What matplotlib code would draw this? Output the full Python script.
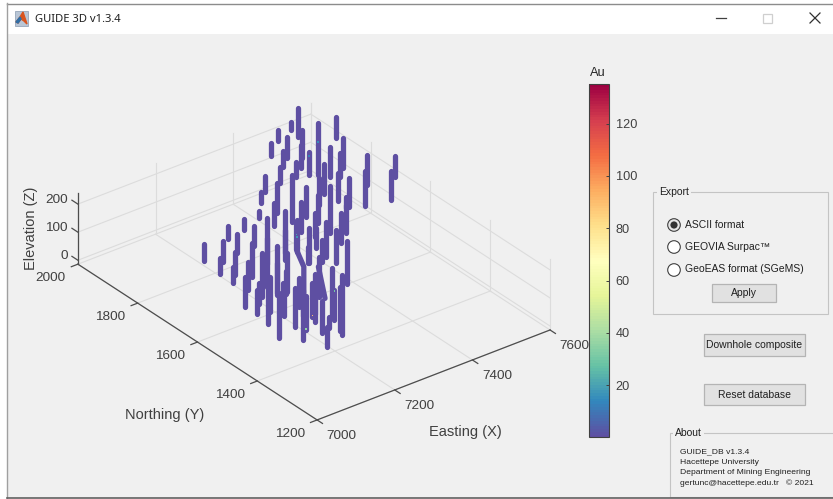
import matplotlib
matplotlib.use('Agg')
import matplotlib.pyplot as plt
from matplotlib.cm import ScalarMappable
from matplotlib.colors import Normalize
from matplotlib.patches import Rectangle, Circle

plt.rcParams['font.family'] = ['Liberation Sans', 'DejaVu Sans']

# drill holes (collar easting / northing, top and bottom elevation)
hole_x = [7580, 7534, 7494, 7450, 7489, 7533, 7493, 7450, 7406, 7445, 7488, 7576, 7620, 7578, 7536, 7535, 7484,
          7483, 7488, 7437, 7576, 7534, 7618, 7574, 7359, 7313, 7360, 7305, 7404, 7399, 7353, 7440, 7397, 7439,
          7347, 7390, 7418, 7339, 7331, 7343, 7292, 7300, 7311, 7300, 7303, 7256, 7263, 7257, 7218, 7175, 7169,
          7216, 7091, 7130, 7083, 7123, 7081, 7170, 7117, 7076, 7162, 7083, 7063, 7207, 7113, 7205, 7161, 7156,
          7091, 7090, 7128, 7160, 7105, 7126, 7169, 7195, 7139, 7238, 7237, 7204, 7112, 7085, 7246, 7252, 7188,
          7117, 7202, 7122, 7157, 7138]
hole_y = [2016, 1980, 1971, 1940, 1937, 1941, 1895, 1898, 1851, 1847, 1861, 1946, 1943, 1864, 1819, 1851, 1805,
          1758, 1728, 1670, 1780, 1732, 1743, 1699, 1841, 1794, 1801, 1741, 1810, 1754, 1712, 1765, 1713, 1728,
          1657, 1627, 1646, 1577, 1529, 1617, 1562, 1616, 1608, 1656, 1700, 1641, 1735, 1700, 1727, 1726, 1687,
          1690, 1695, 1682, 1633, 1633, 1588, 1639, 1582, 1540, 1594, 1501, 1482, 1636, 1512, 1599, 1544, 1505,
          1444, 1428, 1441, 1467, 1382, 1400, 1435, 1461, 1364, 1458, 1425, 1388, 1305, 1277, 1512, 1559, 1386,
          1509, 1564, 1471, 1410, 1425]
hole_bottom = [119, 193, 181, 172, 145, 119, 137, 164, 160, 164, 139, 33, 143, 113, 137, 113, 113,
               121, 116, 181, 113, 94, 144, 116, 163, 181, 113, 137, 53, 113, 113, 125, 119, 50,
               137, 113, 119, 101, 65, 93, 143, 95, 149, 106, 47, 137, 193, 59, 181, 171, 152,
               149, 162, 146, 162, 137, 160, 101, 121, 113, 65, 146, 134, 47, 51, 51, 107, 140,
               59, 149, 83, 119, 89, 101, 101, 78, 107, 47, 6, 62, 181, 146, 77, 160, 113,
               95, 83, 107, 107, 125]
hole_top = 220
base_au = 1

# two deviated holes
dev1_x = [7292, 7292, 7290, 7290]
dev1_y = [1648, 1648, 1621, 1621]
dev1_z = [220, 125, 85, -10]
dev2_x = [7289, 7263]
dev2_y = [1571, 1515]
dev2_z = [120, 60]

# the few higher grade samples that show on the holes
hit_x = [7576, 7488, 7188, 7126, 7169, 7292, 7300]
hit_y = [1946, 1861, 1386, 1400, 1435, 1648, 1656]
hit_z = [150, 208, 215, 103, 105, 180, 160]
hit_au = [15, 12, 30, 35, 90, 20, 18]

x_ticks = [7000, 7200, 7400, 7600]
y_ticks = [1200, 1400, 1600, 1800, 2000]
z_ticks = [0, 100, 200]
x_lim = (7000, 7600)
y_lim = (1200, 2000)
z_lim = (-14, 240)
cbar_ticks = [20, 40, 60, 80, 100, 120]
au_lim = (0.15, 135)
about_lines = ['GUIDE_DB v1.3.4', 'Hacettepe University', 'Department of Mining Engineering',
               'gertunc@hacettepe.edu.tr   © 2021']

TXT = '#404040'
GRID = '#dcdcdc'
AXC = '#4d4d4d'
BG = '#f0f0f0'

fig = plt.figure(figsize=(8.33, 4.99), dpi=100, facecolor='white')

# window chrome and controls, in pixel coordinates
ui = fig.add_axes([0, 0, 1, 1], zorder=0)
ui.set_xlim(0, 833)
ui.set_ylim(499, 0)
ui.axis('off')
ui.add_patch(Rectangle((7, 34), 830, 464, fc=BG, ec='none'))
ui.plot([7, 833], [3.5, 3.5], color='#8c8c8c', lw=1)
ui.plot([7.5, 7.5], [3, 498], color='#a0a0a0', lw=1)
ui.plot([7, 833], [498, 498], color='#606060', lw=1.2)

# title bar icon
ui.add_patch(Rectangle((15, 11), 13, 15, fc='#b9c6d6', ec='#8a9bb0', lw=0.5))
ui.fill([16, 20, 23, 27, 24, 21, 18], [22, 17, 12, 24, 21, 19, 23], color='#d9541e')
ui.fill([16, 20, 21, 18], [22, 17, 19, 23], color='#2f6fa8')
ui.text(35, 19, 'GUIDE 3D v1.3.4', family='Noto Sans', fontsize=8.1, color='#202020', va='center')
ui.plot([716, 726], [18, 18], color='#404040', lw=0.9)
ui.add_patch(Rectangle((763.5, 14), 9, 9, fc='none', ec='#cfcfcf', lw=0.9))
ui.plot([810, 820], [13, 23], color='#303030', lw=0.9)
ui.plot([810, 820], [23, 13], color='#303030', lw=0.9)

ui.text(598, 73, 'Au', fontsize=9.2, color='#262626', ha='center', va='center')
ui.text(30.7, 228, 'Elevation (Z)', fontsize=10.5, color=TXT, ha='center', va='center', rotation=90)

# Export panel
ui.add_patch(Rectangle((653.5, 191.5), 175, 122.5, fc='none', ec='#c4c4c4', lw=0.8))
ui.text(659, 192, 'Export', fontsize=7.5, color='#202020', va='center',
        bbox=dict(fc=BG, ec='none', pad=1.5))
for ry, label in zip([225, 247, 270], ['ASCII format', 'GEOVIA Surpac™', 'GeoEAS format (SGeMS)']):
    ui.add_patch(Circle((674, ry), 6.3, fc='white' if ry != 225 else '#e6e6e6', ec='#404040', lw=0.8))
    ui.text(685, ry - 0.5, label, fontsize=7.45, color='#202020', va='center')
ui.add_patch(Circle((674, 225), 3.6, fc='#333333', ec='none'))


def button(x0, x1, y0, y1, label):
    ui.add_patch(Rectangle((x0, y0), x1 - x0, y1 - y0, fc='#e1e1e1', ec='#b4b4b4', lw=0.9))
    ui.text((x0 + x1) / 2, (y0 + y1) / 2, label, fontsize=7.45, color='#202020', ha='center', va='center')


button(712, 776, 284, 302, 'Apply')
button(704, 805, 334, 356, 'Downhole composite')
button(704, 805, 384, 405, 'Reset database')

# About panel
ui.add_patch(Rectangle((670, 432.5), 200, 64, fc='none', ec='#c4c4c4', lw=0.8))
ui.text(675, 433, 'About', fontsize=7.5, color='#202020', va='center',
        bbox=dict(fc=BG, ec='none', pad=1.5))
clip = Rectangle((670, 440), 163, 45, transform=ui.transData)
for ly, line in zip([451.5, 462, 472, 483], about_lines):
    t = ui.text(680, ly, line, fontsize=6.1, color='#202020', va='center')
    t.set_clip_path(clip)

# 3D scene: same view as the MATLAB axes
side = 620
ax = fig.add_axes([-4.4 / 833, -80.8 / 499, side / 833, side / 499], projection='3d', zorder=1)
ax.set_proj_type('ortho')
ax.view_init(elev=30.1, azim=-127.6)
ax.set_box_aspect((294, 392, 82.4), zoom=482.4 / side)
ax.set_xlim(*x_lim)
ax.set_ylim(*y_lim)
ax.set_zlim(*z_lim)
ax.set_axis_off()
ax.patch.set_alpha(0)
ax.computed_zorder = False

gk = dict(color=GRID, lw=0.8, zorder=1)
for xt in x_ticks:
    ax.plot([xt, xt], y_lim, [z_lim[0]] * 2, **gk)
    ax.plot([xt, xt], [y_lim[1]] * 2, z_lim, **gk)
for yt in y_ticks:
    ax.plot(x_lim, [yt, yt], [z_lim[0]] * 2, **gk)
    ax.plot([x_lim[1]] * 2, [yt, yt], z_lim, **gk)
for zt in z_ticks:
    ax.plot(x_lim, [y_lim[1]] * 2, [zt, zt], **gk)
    ax.plot([x_lim[1]] * 2, y_lim, [zt, zt], **gk)

# axis lines and ticks
ak = dict(color=AXC, lw=0.9, zorder=2)
ax.plot(x_lim, [y_lim[0]] * 2, [z_lim[0]] * 2, **ak)
ax.plot([x_lim[0]] * 2, y_lim, [z_lim[0]] * 2, **ak)
ax.plot([x_lim[0]] * 2, [y_lim[1]] * 2, z_lim, **ak)
for xt in x_ticks:
    ax.plot([xt, xt], [y_lim[0], y_lim[0] - 18], [z_lim[0]] * 2, **ak)
    ax.text(xt, y_lim[0] - 82, z_lim[0], str(xt), fontsize=9.7, color=TXT, ha='center', va='center')
for yt in y_ticks:
    ax.plot([x_lim[0], x_lim[0] - 17], [yt, yt], [z_lim[0]] * 2, **ak)
    ax.text(x_lim[0] - 79, yt - 11, z_lim[0], str(yt), fontsize=9.7, color=TXT, ha='center', va='center')
for zt in z_ticks:
    ax.plot([x_lim[0]] * 2, [y_lim[1], y_lim[1] + 20], [zt, zt], **ak)
    ax.text(x_lim[0] - 5.5, y_lim[1] + 27, zt, str(zt), fontsize=9.7, color=TXT, ha='right', va='center')

ax.text(7210, 978, z_lim[0], 'Easting (X)', fontsize=10.5, color=TXT, ha='center', va='center')
ax.text(6765, 1406, z_lim[0], 'Northing (Y)', fontsize=10.5, color=TXT, ha='center', va='center')

# holes
cmap = plt.get_cmap('Spectral_r', 128)
norm = Normalize(*au_lim)
hole_color = cmap(norm(base_au))
hk = dict(color=hole_color, lw=3.8, solid_capstyle='round', solid_joinstyle='round', zorder=3)
for hx, hy, hb in zip(hole_x, hole_y, hole_bottom):
    ax.plot([hx, hx], [hy, hy], [hole_top, hb], **hk)
ax.plot(dev1_x, dev1_y, dev1_z, **hk)
ax.plot(dev2_x, dev2_y, dev2_z, **hk)
ax.scatter(hit_x, hit_y, hit_z, c=hit_au, cmap=cmap, norm=norm, s=1.5, marker='s', linewidths=0,
           depthshade=False, zorder=4)

# colour bar
cax = fig.add_axes([588.8 / 833, (499 - 437.3) / 499, 20.6 / 833, 353 / 499], zorder=2)
cb = fig.colorbar(ScalarMappable(norm=norm, cmap=cmap), cax=cax, ticks=cbar_ticks)
cb.outline.set_edgecolor('#404040')
cb.outline.set_linewidth(0.8)
cb.ax.tick_params(direction='in', length=2.5, width=0.7, color='#404040', labelcolor=TXT, labelsize=9.2, pad=4.5)

fig.savefig('out.png', dpi=100, facecolor='white')
